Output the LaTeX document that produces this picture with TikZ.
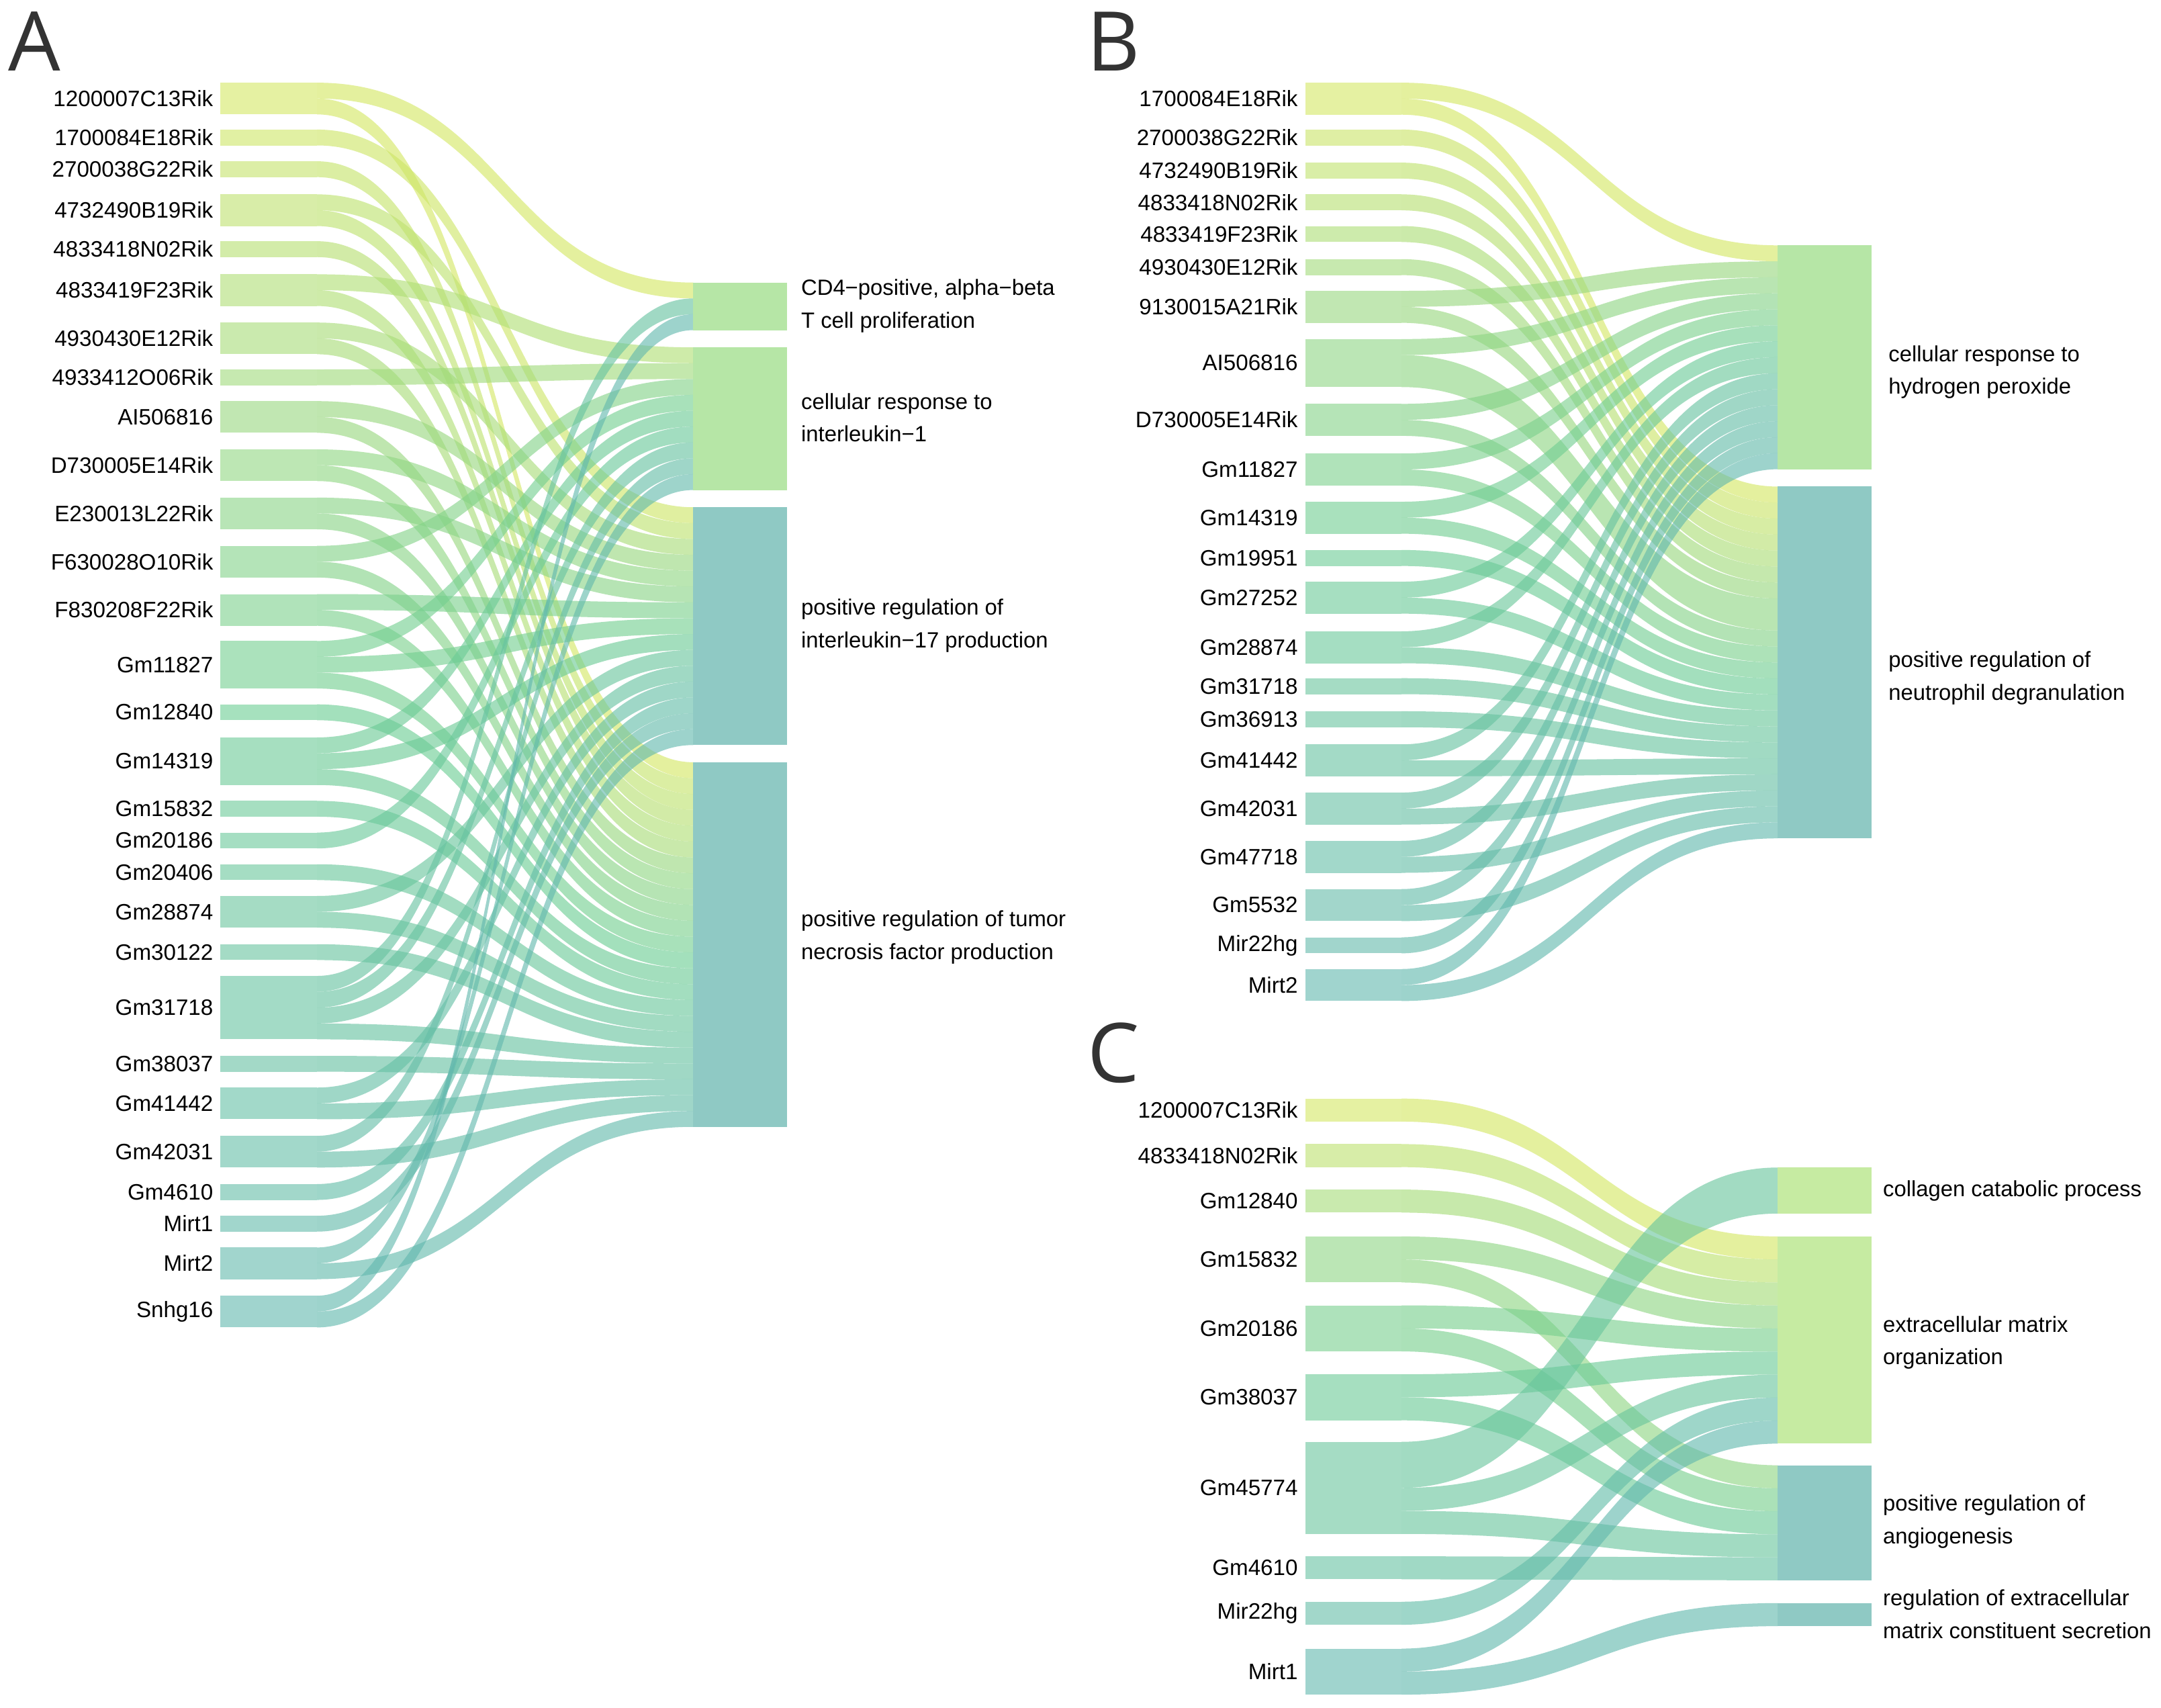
\documentclass[tikz,border=0pt]{standalone}
\usepackage{fontspec}
\setmainfont{Liberation Sans}
\newfontfamily\letterfont{Open Sans}
\definecolor{cY}{RGB}{212,232,100}
\definecolor{cG}{RGB}{108,205,148}
\definecolor{cT}{RGB}{98,184,174}
\definecolor{tGreen}{RGB}{182,230,166}
\definecolor{tTeal}{RGB}{143,201,196}
\definecolor{tLime}{RGB}{198,235,162}
\definecolor{ink}{RGB}{51,51,51}
\newcommand\tinit[2]{\expandafter\xdef\csname ty#1\endcsname{#2}}
\newcommand\gene[7]{%
  \pgfmathsetmacro\gT{#4/(#5-1)}%
  \ifdim\gT pt<0.5pt
    \pgfmathtruncatemacro\gP{200*\gT}\colorlet{gc}{cG!\gP!cY}%
  \else
    \pgfmathtruncatemacro\gP{200*(\gT-0.5)}\colorlet{gc}{cT!\gP!cG}%
  \fi
  \xdef\gy{#3}%
  \foreach \tk/\uu in {#6}{%
    \pgfmathsetmacro\hh{\uu*#7}%
    \edef\tyy{\csname ty\tk\endcsname}%
    \fill[gc,opacity=.62] (\GX,\gy) .. controls (\MX,\gy) and (\MX,\tyy) .. (\TX,\tyy)
      -- (\TX,\tyy+\hh) .. controls (\MX,\tyy+\hh) and (\MX,\gy+\hh) .. (\GX,\gy+\hh) -- cycle;
    \pgfmathsetmacro\nA{\gy+\hh}\xdef\gy{\nA}%
    \pgfmathsetmacro\nB{\tyy+\hh}\expandafter\xdef\csname ty\tk\endcsname{\nB}%
  }%
  \fill[gc,opacity=.6] (\BL,#3) rectangle (\GX,\gy);
  \node[glab] (#1-#2) at (\BL-5,{(#3+\gy)/2}) {#2};
}
\tikzset{
  glab/.style={anchor=east,font=\fontsize{9.2}{11}\selectfont,inner sep=0pt},
  tlab/.style={anchor=west,align=left,font=\fontsize{9.1}{13.5}\selectfont,inner sep=0pt},
  letter/.style={font=\letterfont\fontsize{34}{34}\selectfont,text=ink,inner sep=0pt}
}
\begin{document}
\begin{tikzpicture}[x=0.02cm,y=-0.02cm]
\useasboundingbox (0,0) rectangle (1568,1239);
\fill[white] (0,0) rectangle (1568,1239);
\node[letter] (LA) at (25,30) {A};
\node[letter] (LB) at (808,30) {B};
\node[letter] (LC) at (808,764) {C};
% ---------------- Panel A
\def\GX{230}\def\TX{503}\def\BL{160}\def\MX{366.5}
\tinit{a}{205}\tinit{b}{252}\tinit{c}{368}\tinit{d}{553}
\def\U{11.5}
\gene{A}{1200007C13Rik}{60}{0}{29}{a/1,d/1}{\U}
\gene{A}{1700084E18Rik}{94}{1}{29}{c/1}{\U}
\gene{A}{2700038G22Rik}{117}{2}{29}{d/1}{\U}
\gene{A}{4732490B19Rik}{141}{3}{29}{c/1,d/1}{\U}
\gene{A}{4833418N02Rik}{175}{4}{29}{d/1}{\U}
\gene{A}{4833419F23Rik}{199}{5}{29}{b/1,d/1}{\U}
\gene{A}{4930430E12Rik}{234}{6}{29}{c/1,d/1}{\U}
\gene{A}{4933412O06Rik}{268}{7}{29}{b/1}{\U}
\gene{A}{AI506816}{291}{8}{29}{c/1,d/1}{\U}
\gene{A}{D730005E14Rik}{326}{9}{29}{c/1,d/1}{\U}
\gene{A}{E230013L22Rik}{361}{10}{29}{c/1,d/1}{\U}
\gene{A}{F630028O10Rik}{396}{11}{29}{b/1,d/1}{\U}
\gene{A}{F830208F22Rik}{431}{12}{29}{c/1,d/1}{\U}
\gene{A}{Gm11827}{465}{13}{29}{b/1,c/1,d/1}{\U}
\gene{A}{Gm12840}{511}{14}{29}{d/1}{\U}
\gene{A}{Gm14319}{535}{15}{29}{b/1,c/1,d/1}{\U}
\gene{A}{Gm15832}{581}{16}{29}{d/1}{\U}
\gene{A}{Gm20186}{604}{17}{29}{b/1}{\U}
\gene{A}{Gm20406}{627}{18}{29}{d/1}{\U}
\gene{A}{Gm28874}{650}{19}{29}{c/1,d/1}{\U}
\gene{A}{Gm30122}{685}{20}{29}{d/1}{\U}
\gene{A}{Gm31718}{708}{21}{29}{a/1,b/1,c/1,d/1}{\U}
\gene{A}{Gm38037}{766}{22}{29}{d/1}{\U}
\gene{A}{Gm41442}{789}{23}{29}{c/1,d/1}{\U}
\gene{A}{Gm42031}{824}{24}{29}{b/1,d/1}{\U}
\gene{A}{Gm4610}{859}{25}{29}{c/1}{\U}
\gene{A}{Mirt1}{882}{26}{29}{c/1}{\U}
\gene{A}{Mirt2}{905}{27}{29}{b/1,d/1}{\U}
\gene{A}{Snhg16}{940}{28}{29}{a/1,c/1}{\U}
\fill[tGreen] (503,205) rectangle (571,239.5);
\fill[tGreen] (503,252) rectangle (571,355.5);
\fill[tTeal] (503,368) rectangle (571,540.5);
\fill[tTeal] (503,553) rectangle (571,817.5);
\node[tlab] (A-t1) at (581,222) {CD4\char"2212positive, alpha\char"2212beta\\T cell proliferation};
\node[tlab] (A-t2) at (581,303) {cellular response to\\interleukin\char"2212 1};
\node[tlab] (A-t3) at (581,454) {positive regulation of\\interleukin\char"2212 17 production};
\node[tlab] (A-t4) at (581,680) {positive regulation of tumor\\necrosis factor production};
% ---------------- Panel B
\def\GX{1017}\def\TX{1290}\def\BL{947}\def\MX{1153.5}
\tinit{e}{178}\tinit{f}{353}
\def\U{11.6}
\gene{B}{1700084E18Rik}{60}{0}{22}{e/1,f/1}{\U}
\gene{B}{2700038G22Rik}{94}{1}{22}{f/1}{\U}
\gene{B}{4732490B19Rik}{118}{2}{22}{f/1}{\U}
\gene{B}{4833418N02Rik}{141}{3}{22}{f/1}{\U}
\gene{B}{4833419F23Rik}{164}{4}{22}{f/1}{\U}
\gene{B}{4930430E12Rik}{188}{5}{22}{f/1}{\U}
\gene{B}{9130015A21Rik}{211}{6}{22}{e/1,f/1}{\U}
\gene{B}{AI506816}{246}{7}{22}{e/1,f/2}{\U}
\gene{B}{D730005E14Rik}{293}{8}{22}{e/1,f/1}{\U}
\gene{B}{Gm11827}{329}{9}{22}{e/1,f/1}{\U}
\gene{B}{Gm14319}{364}{10}{22}{e/1,f/1}{\U}
\gene{B}{Gm19951}{399}{11}{22}{f/1}{\U}
\gene{B}{Gm27252}{422}{12}{22}{e/1,f/1}{\U}
\gene{B}{Gm28874}{458}{13}{22}{e/1,f/1}{\U}
\gene{B}{Gm31718}{492}{14}{22}{f/1}{\U}
\gene{B}{Gm36913}{516}{15}{22}{f/1}{\U}
\gene{B}{Gm41442}{540}{16}{22}{e/1,f/1}{\U}
\gene{B}{Gm42031}{575}{17}{22}{e/1,f/1}{\U}
\gene{B}{Gm47718}{610}{18}{22}{e/1,f/1}{\U}
\gene{B}{Gm5532}{645}{19}{22}{e/1,f/1}{\U}
\gene{B}{Mir22hg}{680}{20}{22}{e/1}{\U}
\gene{B}{Mirt2}{703}{21}{22}{e/1,f/1}{\U}
\fill[tGreen] (1290,178) rectangle (1358,340.4);
\fill[tTeal] (1290,353) rectangle (1358,608.2);
\node[tlab] (B-t1) at (1370,270) {cellular response to\\hydrogen peroxide};
\node[tlab] (B-t2) at (1370,492) {positive regulation of\\neutrophil degranulation};
% ---------------- Panel C
\tinit{g}{847}\tinit{h}{897}\tinit{i}{1063}\tinit{j}{1163}
\def\U{16.7}
\gene{C}{1200007C13Rik}{797}{0}{10}{h/1}{\U}
\gene{C}{4833418N02Rik}{830}{1}{10}{h/1}{\U}
\gene{C}{Gm12840}{863}{2}{10}{h/1}{\U}
\gene{C}{Gm15832}{897}{3}{10}{h/1,i/1}{\U}
\gene{C}{Gm20186}{947}{4}{10}{h/1,i/1}{\U}
\gene{C}{Gm38037}{997}{5}{10}{h/1,i/1}{\U}
\gene{C}{Gm45774}{1046}{6}{10}{g/2,h/1,i/1}{\U}
\gene{C}{Gm4610}{1129}{7}{10}{i/1}{\U}
\gene{C}{Mir22hg}{1162}{8}{10}{h/1}{\U}
\gene{C}{Mirt1}{1196}{9}{10}{h/1,j/1}{\U}
\fill[tLime] (1290,847) rectangle (1358,880.4);
\fill[tLime] (1290,897) rectangle (1358,1047.3);
\fill[tTeal] (1290,1063) rectangle (1358,1146.5);
\fill[tTeal] (1290,1163) rectangle (1358,1179.7);
\node[tlab] (C-t1) at (1366,864) {collagen catabolic process};
\node[tlab] (C-t2) at (1366,974) {extracellular matrix\\organization};
\node[tlab] (C-t3) at (1366,1104) {positive regulation of\\angiogenesis};
\node[tlab] (C-t4) at (1366,1171) {regulation of extracellular\\matrix constituent secretion};
\end{tikzpicture}
\end{document}
